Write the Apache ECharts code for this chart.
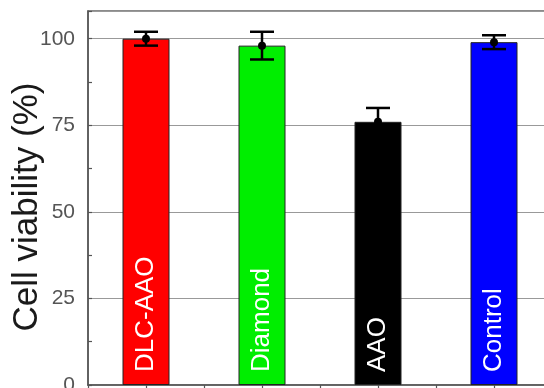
<!DOCTYPE html>
<html>
<head>
<meta charset="utf-8">
<script src="https://cdn.jsdelivr.net/npm/echarts@6/dist/echarts.min.js"></script>
<style>
  html, body { margin: 0; padding: 0; background: #fff; }
  #chart { width: 544px; height: 388px; }
</style>
</head>
<body>
<div id="chart"></div>
<script>
// Sample groups, mean viability (%) and standard deviation
var categories = ['DLC-AAO', 'Diamond', 'AAO', 'Control'];
var positions = [1, 2, 3, 4];
var viability = [100, 98, 76, 99];
var deviation = [2, 4, 4, 2];
var barColors = ['#ff0000', '#00ee00', '#000000', '#0000ff'];
var yTicks = [0, 25, 50, 75, 100];

var FONT = '"Liberation Sans", Arial, sans-serif';

var barData = positions.map(function (p, i) {
  return {
    value: [p, viability[i]],
    name: categories[i],
    itemStyle: { color: barColors[i] }
  };
});

var errData = positions.map(function (p, i) {
  return [p, viability[i], viability[i] - deviation[i], viability[i] + deviation[i]];
});

var chart = echarts.init(document.getElementById('chart'), null, { renderer: 'canvas' });

chart.setOption({
  animation: false,
  backgroundColor: '#ffffff',
  grid: {
    left: 88, top: 11, width: 464, height: 374,
    show: true, borderColor: '#666', borderWidth: 1.5,
    containLabel: false,
    outerBoundsMode: 'none'
  },
  xAxis: {
    type: 'value',
    min: 0.5, max: 4.5, interval: 0.5,
    axisLine: { show: true, onZero: false, lineStyle: { color: '#555', width: 1.5 } },
    axisTick: { show: true, inside: false, length: 5, lineStyle: { color: '#555', width: 1.2 } },
    axisLabel: { show: false },
    splitLine: { show: false }
  },
  yAxis: {
    type: 'value',
    min: 0, max: 108, interval: 25,
    name: 'Cell viability (%)',
    nameLocation: 'middle',
    nameGap: 43,
    nameRotate: 90,
    nameMoveOverlap: false,
    nameTextStyle: { fontFamily: FONT, fontSize: 35, color: '#1a1a1a', padding: [0, 18, 0, 0] },
    axisLine: { show: true, lineStyle: { color: '#555', width: 1.5 } },
    axisTick: { show: true, inside: true, length: 4, lineStyle: { color: '#555', width: 1.2 } },
    minorTick: { show: true, splitNumber: 2, length: 4, lineStyle: { color: '#555', width: 1.2 } },
    axisLabel: {
      fontFamily: FONT, fontSize: 21, color: '#555', margin: 13,
      showMaxLabel: false,
      formatter: function (v) { return yTicks.indexOf(v) >= 0 ? String(v) : ''; }
    },
    splitLine: { show: true, lineStyle: { color: '#999', width: 1.2 } }
  },
  series: [
    {
      type: 'bar',
      data: barData,
      barWidth: 47,
      itemStyle: { borderColor: '#222', borderWidth: 1 },
      label: {
        show: true,
        position: 'insideBottom',
        distance: 13,
        rotate: 90,
        align: 'left',
        verticalAlign: 'middle',
        formatter: function (p) { return p.name; },
        fontFamily: FONT,
        fontSize: 26,
        color: '#ffffff'
      },
      z: 2
    },
    {
      type: 'custom',
      data: errData,
      z: 5,
      renderItem: function (params, api) {
        var x = api.value(0);
        var mean = api.coord([x, api.value(1)]);
        var lo = api.coord([x, api.value(2)]);
        var hi = api.coord([x, api.value(3)]);
        var capHalf = 12;
        var style = { stroke: '#000', lineWidth: 2.5 };
        return {
          type: 'group',
          children: [
            { type: 'line', shape: { x1: hi[0], y1: hi[1], x2: lo[0], y2: lo[1] }, style: style },
            { type: 'line', shape: { x1: hi[0] - capHalf, y1: hi[1], x2: hi[0] + capHalf, y2: hi[1] }, style: style },
            { type: 'line', shape: { x1: lo[0] - capHalf, y1: lo[1], x2: lo[0] + capHalf, y2: lo[1] }, style: style },
            { type: 'circle', shape: { cx: mean[0], cy: mean[1], r: 4 }, style: { fill: '#000' } }
          ]
        };
      }
    }
  ]
});
</script>
</body>
</html>
